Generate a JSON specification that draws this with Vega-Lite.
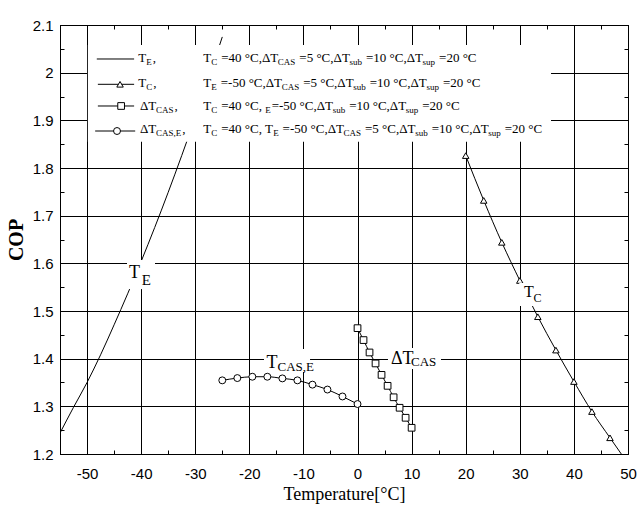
{
  "$schema": "https://vega.github.io/schema/vega-lite/v6.json",
  "width": 568,
  "height": 429,
  "autosize": "none",
  "padding": {"left": 60, "top": 25, "right": 12, "bottom": 51},
  "background": "white",
  "config": {
    "view": {"stroke": "black", "strokeWidth": 1},
    "axis": {
      "domainColor": "black", "domainWidth": 1,
      "tickColor": "black", "tickWidth": 1,
      "gridColor": "black", "gridWidth": 1, "gridOpacity": 1,
      "labelColor": "black", "titleColor": "black",
      "labelFont": "Liberation Sans", "labelFontSize": 15,
      "labelOverlap": false, "labelFlush": false
    }
  },
  "datasets": {
    "curves": [
      {"s": "TE", "T": -55, "COP": 1.244},
      {"s": "TE", "T": -52.5, "COP": 1.298},
      {"s": "TE", "T": -50, "COP": 1.35},
      {"s": "TE", "T": -47.5, "COP": 1.408},
      {"s": "TE", "T": -45, "COP": 1.471},
      {"s": "TE", "T": -42.5, "COP": 1.536},
      {"s": "TE", "T": -40, "COP": 1.604},
      {"s": "TE", "T": -37.5, "COP": 1.675},
      {"s": "TE", "T": -35, "COP": 1.749},
      {"s": "TE", "T": -32.5, "COP": 1.826},
      {"s": "TE", "T": -30, "COP": 1.906},
      {"s": "TE", "T": -27.5, "COP": 1.989},
      {"s": "TE", "T": -25, "COP": 2.075},
      {"s": "TC", "T": 20, "COP": 1.826},
      {"s": "TC", "T": 23.33, "COP": 1.732},
      {"s": "TC", "T": 26.67, "COP": 1.644},
      {"s": "TC", "T": 30, "COP": 1.564},
      {"s": "TC", "T": 33.33, "COP": 1.488},
      {"s": "TC", "T": 36.67, "COP": 1.418},
      {"s": "TC", "T": 40, "COP": 1.352},
      {"s": "TC", "T": 43.33, "COP": 1.289},
      {"s": "TC", "T": 46.67, "COP": 1.234},
      {"s": "TC", "T": 50, "COP": 1.18},
      {"s": "dTCAS", "T": 0, "COP": 1.464},
      {"s": "dTCAS", "T": 1.11, "COP": 1.439},
      {"s": "dTCAS", "T": 2.22, "COP": 1.413},
      {"s": "dTCAS", "T": 3.33, "COP": 1.39},
      {"s": "dTCAS", "T": 4.44, "COP": 1.366},
      {"s": "dTCAS", "T": 5.56, "COP": 1.343},
      {"s": "dTCAS", "T": 6.67, "COP": 1.319},
      {"s": "dTCAS", "T": 7.78, "COP": 1.297},
      {"s": "dTCAS", "T": 8.89, "COP": 1.276},
      {"s": "dTCAS", "T": 10, "COP": 1.255},
      {"s": "TCASE", "T": -25, "COP": 1.3545},
      {"s": "TCASE", "T": -22.22, "COP": 1.3593},
      {"s": "TCASE", "T": -19.44, "COP": 1.3621},
      {"s": "TCASE", "T": -16.67, "COP": 1.3621},
      {"s": "TCASE", "T": -13.89, "COP": 1.3586},
      {"s": "TCASE", "T": -11.11, "COP": 1.3545},
      {"s": "TCASE", "T": -8.33, "COP": 1.3455},
      {"s": "TCASE", "T": -5.56, "COP": 1.3352},
      {"s": "TCASE", "T": -2.78, "COP": 1.3207},
      {"s": "TCASE", "T": 0, "COP": 1.3048}
    ],
    "boxes": [
      {"id": "legend", "x1": -49.85, "x2": 35.77, "y1": 1.855, "y2": 2.058},
      {"id": "TE", "x1": -42.61, "x2": -37.44, "y1": 1.546, "y2": 1.607},
      {"id": "TCASE", "x1": -17.29, "x2": -8.78, "y1": 1.372, "y2": 1.4203},
      {"id": "dTCAS", "x1": 5.63, "x2": 15.43, "y1": 1.3783, "y2": 1.4224},
      {"id": "TC", "x1": 29.9, "x2": 34.7, "y1": 1.5105, "y2": 1.5587}
    ],
    "legLines": [
      {"s": "TE", "x1": -48.2, "x2": -41.3, "y": 2.0287},
      {"s": "TC", "x1": -48.0, "x2": -41.3, "y": 1.9756},
      {"s": "dTCAS", "x1": -48.0, "x2": -41.3, "y": 1.9301},
      {"s": "TCASE", "x1": -48.5, "x2": -41.1, "y": 1.8776}
    ],
    "legPts": [
      {"s": "TC", "T": -43.9, "COP": 1.9756},
      {"s": "dTCAS", "T": -43.7, "COP": 1.9301},
      {"s": "TCASE", "T": -44.46, "COP": 1.8776}
    ],
    "legMain": [
      {"x": -40.53, "y": 2.023, "t": "T"},
      {"x": -37.86, "y": 2.023, "t": ","},
      {"x": -28.51, "y": 2.023, "t": "T"},
      {"x": -25.19, "y": 2.023, "t": "=40 °C,ΔT"},
      {"x": -10.76, "y": 2.023, "t": "=5 °C,ΔT"},
      {"x": 1.56, "y": 2.023, "t": "=10 °C,ΔT"},
      {"x": 15.07, "y": 2.023, "t": "=20 °C"},
      {"x": -40.53, "y": 1.9706, "t": "T"},
      {"x": -37.76, "y": 1.9706, "t": ","},
      {"x": -28.51, "y": 1.9706, "t": "T"},
      {"x": -25.29, "y": 1.9706, "t": "=-50 °C,ΔT"},
      {"x": -10.05, "y": 1.9706, "t": "=5 °C,ΔT"},
      {"x": 2.26, "y": 1.9706, "t": "=10 °C,ΔT"},
      {"x": 15.78, "y": 1.9706, "t": "=20 °C"},
      {"x": -40.21, "y": 1.9217, "t": "ΔT"},
      {"x": -33.85, "y": 1.9217, "t": ","},
      {"x": -28.51, "y": 1.9217, "t": "T"},
      {"x": -25.19, "y": 1.9217, "t": "=40 °C,"},
      {"x": -15.87, "y": 1.9217, "t": "=-50 °C,ΔT"},
      {"x": -1.55, "y": 1.9217, "t": "=10 °C,ΔT"},
      {"x": 11.96, "y": 1.9217, "t": "=20 °C"},
      {"x": -40.21, "y": 1.8728, "t": "ΔT"},
      {"x": -32.42, "y": 1.8728, "t": ","},
      {"x": -28.51, "y": 1.8728, "t": "T"},
      {"x": -25.19, "y": 1.8728, "t": "=40 °C, T"},
      {"x": -13.85, "y": 1.8728, "t": "=-50 °C,ΔT"},
      {"x": 1.39, "y": 1.8728, "t": "=5 °C,ΔT"},
      {"x": 13.71, "y": 1.8728, "t": "=10 °C,ΔT"},
      {"x": 27.22, "y": 1.8728, "t": "=20 °C"}
    ],
    "legSub": [
      {"x": -39.06, "y": 2.023, "t": "E"},
      {"x": -27.04, "y": 2.023, "t": "C"},
      {"x": -14.73, "y": 2.023, "t": "CAS"},
      {"x": -1.49, "y": 2.023, "t": "sub"},
      {"x": 12.02, "y": 2.023, "t": "sup"},
      {"x": -39.06, "y": 1.9706, "t": "C"},
      {"x": -27.04, "y": 1.9706, "t": "E"},
      {"x": -14.02, "y": 1.9706, "t": "CAS"},
      {"x": -0.79, "y": 1.9706, "t": "sub"},
      {"x": 12.73, "y": 1.9706, "t": "sup"},
      {"x": -37.27, "y": 1.9217, "t": "CAS"},
      {"x": -27.04, "y": 1.9217, "t": "C"},
      {"x": -17.07, "y": 1.9217, "t": "E"},
      {"x": -4.6, "y": 1.9217, "t": "sub"},
      {"x": 8.91, "y": 1.9217, "t": "sup"},
      {"x": -37.27, "y": 1.8728, "t": "CAS,E"},
      {"x": -27.04, "y": 1.8728, "t": "C"},
      {"x": -15.6, "y": 1.8728, "t": "E"},
      {"x": -2.58, "y": 1.8728, "t": "CAS"},
      {"x": 10.66, "y": 1.8728, "t": "sub"},
      {"x": 24.17, "y": 1.8728, "t": "sup"}
    ],
    "labBig": [
      {"x": -42.24, "y": 1.5692, "t": "T"},
      {"x": -16.83, "y": 1.3794, "t": "T"},
      {"x": 6.19, "y": 1.3878, "t": "ΔT"}
    ],
    "labTC": [
      {"x": 30.78, "y": 1.5294, "t": "T"}
    ],
    "labSubE": [
      {"x": -39.9, "y": 1.5545, "t": "E"}
    ],
    "labSubCAS": [
      {"x": -14.79, "y": 1.3731, "t": "CAS,E"},
      {"x": 9.89, "y": 1.3846, "t": "CAS"}
    ],
    "labSubC": [
      {"x": 32.53, "y": 1.5189, "t": "C"}
    ]
  },
  "resolve": {"axis": {"x": "independent", "y": "independent"}},
  "layer": [
    {
      "data": {"name": "curves"},
      "mark": {"type": "line", "color": "black", "strokeWidth": 1, "interpolate": "monotone", "clip": true},
      "encoding": {
        "x": {
          "field": "T", "type": "quantitative",
          "scale": {"domain": [-55, 50], "nice": false, "zero": false},
          "axis": {
            "orient": "bottom",
            "values": [-55, -50, -45, -40, -35, -30, -25, -20, -15, -10, -5, 0, 5, 10, 15, 20, 25, 30, 35, 40, 45, 50],
            "labelExpr": "datum.value % 10 === 0 ? '' + datum.value : ''",
            "gridOpacity": {"condition": {"test": "datum.value % 10 !== 0", "value": 0}, "value": 1},
            "tickSize": -4,
            "labelPadding": 16,
            "title": "Temperature[°C]",
            "titleFont": "Liberation Serif", "titleFontSize": 18, "titleFontWeight": "normal",
            "titlePadding": 4
          }
        },
        "y": {
          "field": "COP", "type": "quantitative",
          "scale": {"domain": [1.2, 2.1], "nice": false, "zero": false},
          "axis": {
            "orient": "left",
            "values": [1.2, 1.25, 1.3, 1.35, 1.4, 1.45, 1.5, 1.55, 1.6, 1.65, 1.7, 1.75, 1.8, 1.85, 1.9, 1.95, 2.0, 2.05, 2.1],
            "labelExpr": "abs(datum.value * 10 - round(datum.value * 10)) < 0.01 ? '' + round(datum.value * 10) / 10 : ''",
            "gridOpacity": {"condition": {"test": "abs(datum.value * 10 - round(datum.value * 10)) > 0.01", "value": 0}, "value": 1},
            "tickSize": -4,
            "labelPadding": 11,
            "title": "COP",
            "titleFont": "Liberation Serif", "titleFontSize": 20, "titleFontWeight": "bold",
            "titlePadding": 6
          }
        },
        "detail": {"field": "s", "type": "nominal"}
      }
    },
    {
      "data": {"name": "curves"},
      "transform": [{"filter": "datum.s !== 'TE'"}],
      "mark": {"type": "point", "filled": true, "fill": "white", "stroke": "black", "strokeWidth": 1, "opacity": 1, "clip": true},
      "encoding": {
        "x": {
          "field": "T", "type": "quantitative",
          "scale": {"domain": [-55, 50], "nice": false, "zero": false},
          "axis": {
            "orient": "top",
            "values": [-55, -50, -45, -40, -35, -30, -25, -20, -15, -10, -5, 0, 5, 10, 15, 20, 25, 30, 35, 40, 45, 50],
            "labels": false, "grid": false, "tickSize": -4, "title": null
          }
        },
        "y": {
          "field": "COP", "type": "quantitative",
          "scale": {"domain": [1.2, 2.1], "nice": false, "zero": false},
          "axis": {
            "orient": "right",
            "values": [1.2, 1.25, 1.3, 1.35, 1.4, 1.45, 1.5, 1.55, 1.6, 1.65, 1.7, 1.75, 1.8, 1.85, 1.9, 1.95, 2.0, 2.05, 2.1],
            "labels": false, "grid": false, "tickSize": -4, "title": null
          }
        },
        "shape": {"field": "s", "type": "nominal", "scale": {"domain": ["TC", "dTCAS", "TCASE"], "range": ["triangle-up", "square", "circle"]}, "legend": null},
        "size": {"field": "s", "type": "ordinal", "scale": {"domain": ["TC", "dTCAS", "TCASE"], "range": [42, 48, 16]}, "legend": null}
      }
    },
    {
      "data": {"name": "boxes"},
      "mark": {"type": "rect", "color": "white", "opacity": 1},
      "encoding": {
        "x": {"field": "x1", "type": "quantitative", "scale": {"domain": [-55, 50], "nice": false, "zero": false}, "axis": null},
        "x2": {"field": "x2"},
        "y": {"field": "y1", "type": "quantitative", "scale": {"domain": [1.2, 2.1], "nice": false, "zero": false}, "axis": null},
        "y2": {"field": "y2"}
      }
    },
    {
      "data": {"name": "legLines"},
      "mark": {"type": "rule", "color": "black", "strokeWidth": 1},
      "encoding": {
        "x": {"field": "x1", "type": "quantitative", "scale": {"domain": [-55, 50], "nice": false, "zero": false}, "axis": null},
        "x2": {"field": "x2"},
        "y": {"field": "y", "type": "quantitative", "scale": {"domain": [1.2, 2.1], "nice": false, "zero": false}, "axis": null}
      }
    },
    {
      "data": {"name": "legPts"},
      "mark": {"type": "point", "filled": true, "fill": "white", "stroke": "black", "strokeWidth": 1, "opacity": 1},
      "encoding": {
        "x": {"field": "T", "type": "quantitative", "scale": {"domain": [-55, 50], "nice": false, "zero": false}, "axis": null},
        "y": {"field": "COP", "type": "quantitative", "scale": {"domain": [1.2, 2.1], "nice": false, "zero": false}, "axis": null},
        "shape": {"field": "s", "type": "nominal", "scale": {"domain": ["TC", "dTCAS", "TCASE"], "range": ["triangle-up", "square", "circle"]}, "legend": null},
        "size": {"field": "s", "type": "ordinal", "scale": {"domain": ["TC", "dTCAS", "TCASE"], "range": [30, 48, 16]}, "legend": null}
      }
    },
    {
      "data": {"name": "legMain"},
      "mark": {"type": "text", "align": "left", "baseline": "alphabetic", "font": "Liberation Serif", "fontSize": 13, "color": "black"},
      "encoding": {
        "x": {"field": "x", "type": "quantitative", "scale": {"domain": [-55, 50], "nice": false, "zero": false}, "axis": null},
        "y": {"field": "y", "type": "quantitative", "scale": {"domain": [1.2, 2.1], "nice": false, "zero": false}, "axis": null},
        "text": {"field": "t"}
      }
    },
    {
      "data": {"name": "legSub"},
      "mark": {"type": "text", "align": "left", "baseline": "alphabetic", "font": "Liberation Serif", "fontSize": 9, "dy": 3, "color": "black"},
      "encoding": {
        "x": {"field": "x", "type": "quantitative", "scale": {"domain": [-55, 50], "nice": false, "zero": false}, "axis": null},
        "y": {"field": "y", "type": "quantitative", "scale": {"domain": [1.2, 2.1], "nice": false, "zero": false}, "axis": null},
        "text": {"field": "t"}
      }
    },
    {
      "data": {"name": "labBig"},
      "mark": {"type": "text", "align": "left", "baseline": "alphabetic", "font": "Liberation Serif", "fontSize": 18, "color": "black"},
      "encoding": {
        "x": {"field": "x", "type": "quantitative", "scale": {"domain": [-55, 50], "nice": false, "zero": false}, "axis": null},
        "y": {"field": "y", "type": "quantitative", "scale": {"domain": [1.2, 2.1], "nice": false, "zero": false}, "axis": null},
        "text": {"field": "t"}
      }
    },
    {
      "data": {"name": "labTC"},
      "mark": {"type": "text", "align": "left", "baseline": "alphabetic", "font": "Liberation Serif", "fontSize": 16, "color": "black"},
      "encoding": {
        "x": {"field": "x", "type": "quantitative", "scale": {"domain": [-55, 50], "nice": false, "zero": false}, "axis": null},
        "y": {"field": "y", "type": "quantitative", "scale": {"domain": [1.2, 2.1], "nice": false, "zero": false}, "axis": null},
        "text": {"field": "t"}
      }
    },
    {
      "data": {"name": "labSubE"},
      "mark": {"type": "text", "align": "left", "baseline": "alphabetic", "font": "Liberation Serif", "fontSize": 15, "color": "black"},
      "encoding": {
        "x": {"field": "x", "type": "quantitative", "scale": {"domain": [-55, 50], "nice": false, "zero": false}, "axis": null},
        "y": {"field": "y", "type": "quantitative", "scale": {"domain": [1.2, 2.1], "nice": false, "zero": false}, "axis": null},
        "text": {"field": "t"}
      }
    },
    {
      "data": {"name": "labSubCAS"},
      "mark": {"type": "text", "align": "left", "baseline": "alphabetic", "font": "Liberation Serif", "fontSize": 13, "color": "black"},
      "encoding": {
        "x": {"field": "x", "type": "quantitative", "scale": {"domain": [-55, 50], "nice": false, "zero": false}, "axis": null},
        "y": {"field": "y", "type": "quantitative", "scale": {"domain": [1.2, 2.1], "nice": false, "zero": false}, "axis": null},
        "text": {"field": "t"}
      }
    },
    {
      "data": {"name": "labSubC"},
      "mark": {"type": "text", "align": "left", "baseline": "alphabetic", "font": "Liberation Serif", "fontSize": 12, "color": "black"},
      "encoding": {
        "x": {"field": "x", "type": "quantitative", "scale": {"domain": [-55, 50], "nice": false, "zero": false}, "axis": null},
        "y": {"field": "y", "type": "quantitative", "scale": {"domain": [1.2, 2.1], "nice": false, "zero": false}, "axis": null},
        "text": {"field": "t"}
      }
    }
  ]
}
